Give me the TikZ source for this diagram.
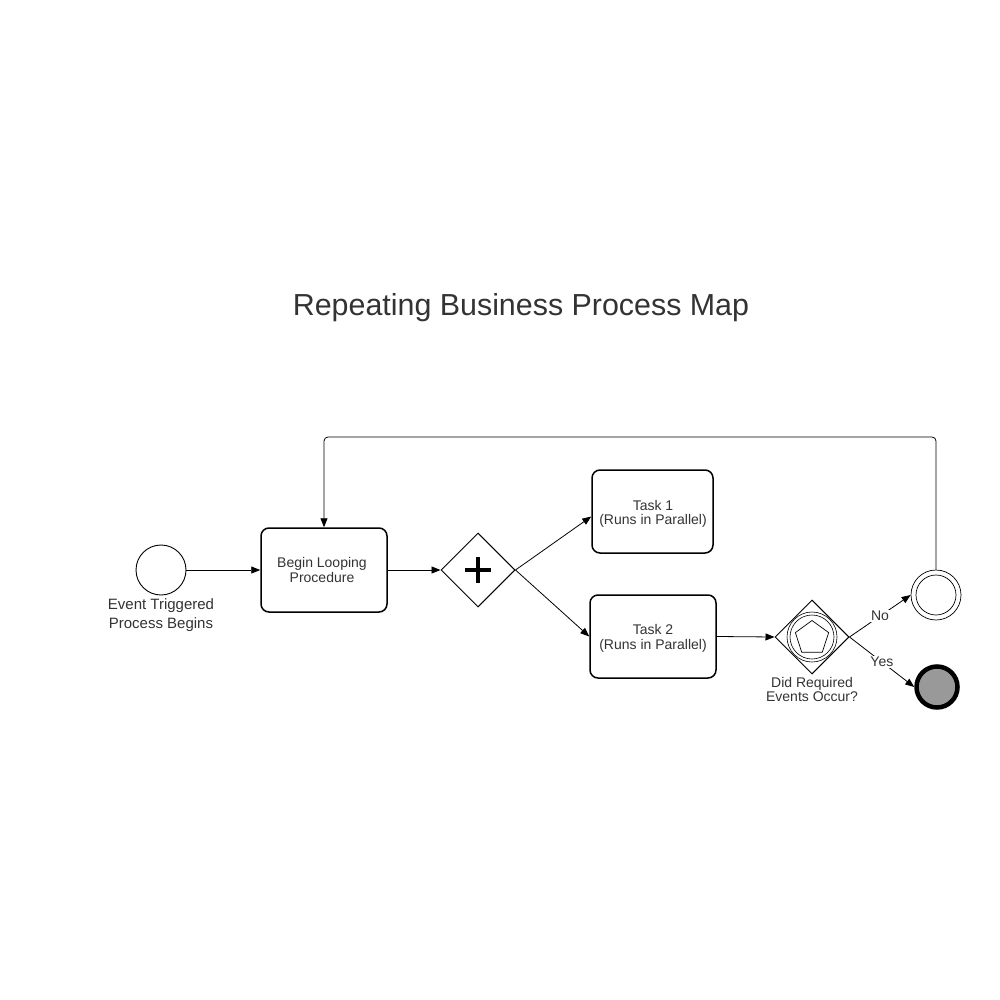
\documentclass[tikz,border=0pt]{standalone}
\usepackage{fontspec}
\setmainfont{Liberation Sans}
\usetikzlibrary{arrows.meta,shapes.geometric,calc}
\definecolor{txt}{HTML}{333333}
\definecolor{endfill}{HTML}{999999}
\begin{document}
\begin{tikzpicture}[x=1pt,y=-1pt,
  every node/.style={text=txt},
  task/.style={draw, rounded corners=8pt, line width=1.5pt, inner sep=0pt},
  tasktxt/.style={align=center, inner sep=0pt, font=\fontsize{14}{14.5}\selectfont},
  gate/.style={draw, diamond, aspect=1, minimum width=74pt, minimum height=74pt, inner sep=0pt, line width=1pt},
  evt/.style={draw, circle, inner sep=0pt, line width=0.9pt},
  lbl/.style={align=center, font=\fontsize{15}{19}\selectfont},
  slbl/.style={align=center, font=\fontsize{14}{14.5}\selectfont},
  flow/.style={line width=0.8pt, -{Triangle[length=9pt,width=7pt]}},
  edgelbl/.style={fill=white, inner sep=1pt, font=\fontsize{14}{14}\selectfont}
]
\useasboundingbox (0,0) rectangle (1000,1000);
\fill[white] (0,0) rectangle (1000,1000);

\node[font=\fontsize{30.4}{34}\selectfont] (title) at (521,307.5) {Repeating Business Process Map};

% start event
\node[evt, minimum size=50pt] (start) at (161,570) {};
\node[lbl] (startlbl) at (161,615) {Event Triggered\\Process Begins};

% begin looping
\node[task, minimum width=126pt, minimum height=84pt] (begin) at (324,570) {};
\node[tasktxt] (begintxt) at (322,570) {Begin Looping\\Procedure};

% parallel gateway
\node[gate] (pg) at (478,570) {};
\draw[line width=3.8pt] (465,570) -- (491,570) (478,557) -- (478,583);

% tasks
\node[task, minimum width=121pt, minimum height=83pt] (t1) at (652.5,511.5) {};
\node[tasktxt] (t1txt) at (653,514) {Task 1\\(Runs in Parallel)};
\node[task, minimum width=126pt, minimum height=83pt] (t2) at (653,636.5) {};
\node[tasktxt] (t2txt) at (653,638.5) {Task 2\\(Runs in Parallel)};

% event-based gateway
\node[gate] (eg) at (812,637) {};
\node[evt, minimum size=50pt, line width=0.6pt] (egc1) at (812,637) {};
\node[evt, minimum size=44pt, line width=0.6pt] (egc2) at (812,637) {};
\node[draw, regular polygon, regular polygon sides=5, minimum size=35pt, inner sep=0pt, line width=0.7pt] (pent) at (812,638) {};
\node[slbl] (eglbl) at (812,689.5) {Did Required\\Events Occur?};

% intermediate event
\node[evt, minimum size=50pt, line width=0.7pt] (ie) at (936,595) {};
\node[evt, minimum size=40pt, line width=0.7pt] (ie2) at (936,595) {};

% end event
\node[draw, circle, minimum size=41pt, inner sep=0pt, line width=4.5pt, fill=endfill] (end) at (937,687) {};

% flows
\draw[flow] (start.east) -- (begin.west);
\draw[flow] (begin.east) -- (pg.west);
\draw[flow] (pg.east) -- ([yshift=-5pt]t1.west);
\draw[flow] (pg.east) -- (t2.west);
\draw[flow] (t2.east) -- (eg.west);
\draw[flow] (eg.east) -- node[edgelbl, pos=0.5] (nolbl) {No} (ie.west);
\draw[flow] (eg.east) -- node[edgelbl, pos=0.5] (yeslbl) {Yes} (end.west);

\coordinate (loopR) at (936,437);
\coordinate (loopL) at (324,437);
\draw[flow, rounded corners=4pt] (ie.north) -- (loopR) -- (loopL) -- (begin.north);
\end{tikzpicture}
\end{document}
